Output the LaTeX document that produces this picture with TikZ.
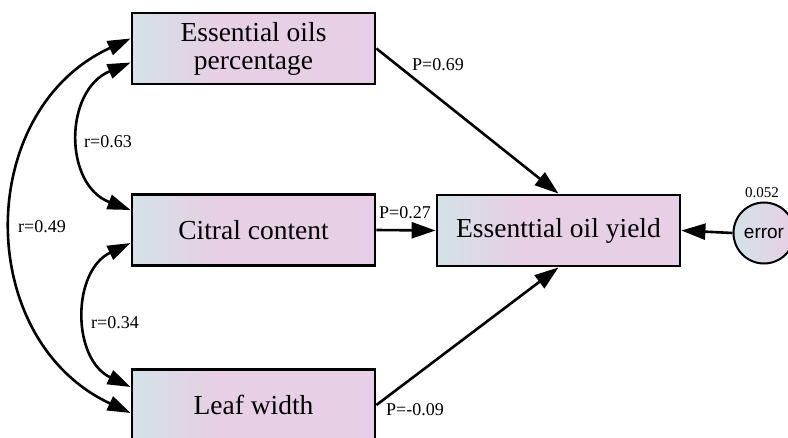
\documentclass[tikz,border=0pt]{standalone}
\usepackage{fontspec}
\setmainfont{Liberation Serif}
\newfontfamily\errfont{Liberation Sans}
\usetikzlibrary{arrows.meta}
\definecolor{bl}{HTML}{D3E2E6}
\definecolor{pk}{HTML}{E7CFE5}
\definecolor{cl}{HTML}{E6D4E9}
\pgfdeclarehorizontalshading{boxsh}{100bp}{color(0bp)=(bl); color(25bp)=(bl); color(42bp)=(pk); color(100bp)=(pk)}
\tikzset{
  var/.style={draw=black, line width=2.8pt, shading=boxsh, minimum width=243pt, minimum height=71pt, inner sep=0pt, align=center, font=\fontsize{27.5}{28}\selectfont},
  errc/.style={circle, draw=black, line width=2pt, left color=bl, right color=pk, minimum size=61pt, inner sep=0pt, font=\errfont\fontsize{19}{20}\selectfont},
  arr/.style={line width=2.6pt, -{Triangle[length=24pt,width=16pt]}},
  dbl/.style={line width=2.6pt, {Triangle[length=23pt,width=15pt]}-{Triangle[length=23pt,width=15pt]}},
  lab/.style={inner sep=0pt, font=\fontsize{18}{20}\selectfont},
}
\begin{document}
\begin{tikzpicture}[x=1pt,y=-1pt]
\useasboundingbox[fill=white] (0,0) rectangle (788,437);
\node[var] (eo) at (253.5,48.5) {Essential oils\\percentage};
\node[var] (cc) at (253.5,230) {Citral content};
\node[var] (lw) at (253.5,405) {Leaf width};
\node[var] (ey) at (558.5,230.5) {Essenttial oil yield};
\node[errc] (err) at (764,233) {error};
\node[lab, font=\fontsize{15}{17}\selectfont] (ev) at (762,193) {0.052};

\draw[arr] (eo.east) -- (ey.north);
\draw[arr] (cc.east) -- (ey.west);
\draw[arr] (lw.east) -- (ey.south);
\draw[arr] (err.west) -- (ey.east);

\draw[dbl] ([yshift=10pt]eo.west) .. controls +(-157,72) and +(-157,-73) .. ([yshift=-8pt]lw.west);
\draw[dbl] ([yshift=-14pt]eo.west) .. controls +(-67,28) and +(-67,-25) .. ([yshift=20pt]cc.west);
\draw[dbl] ([yshift=-13pt]cc.west) .. controls +(-59,28) and +(-59,-28) .. ([yshift=18pt]lw.west);

\node[lab] (p1) at (438,65) {P=0.69};
\node[lab] (p2) at (405,213) {P=0.27};
\node[lab] (p3) at (415,410) {P=-0.09};
\node[lab] (r1) at (108,142) {r=0.63};
\node[lab] (r2) at (42,227) {r=0.49};
\node[lab] (r3) at (115,323) {r=0.34};
\end{tikzpicture}
\end{document}
